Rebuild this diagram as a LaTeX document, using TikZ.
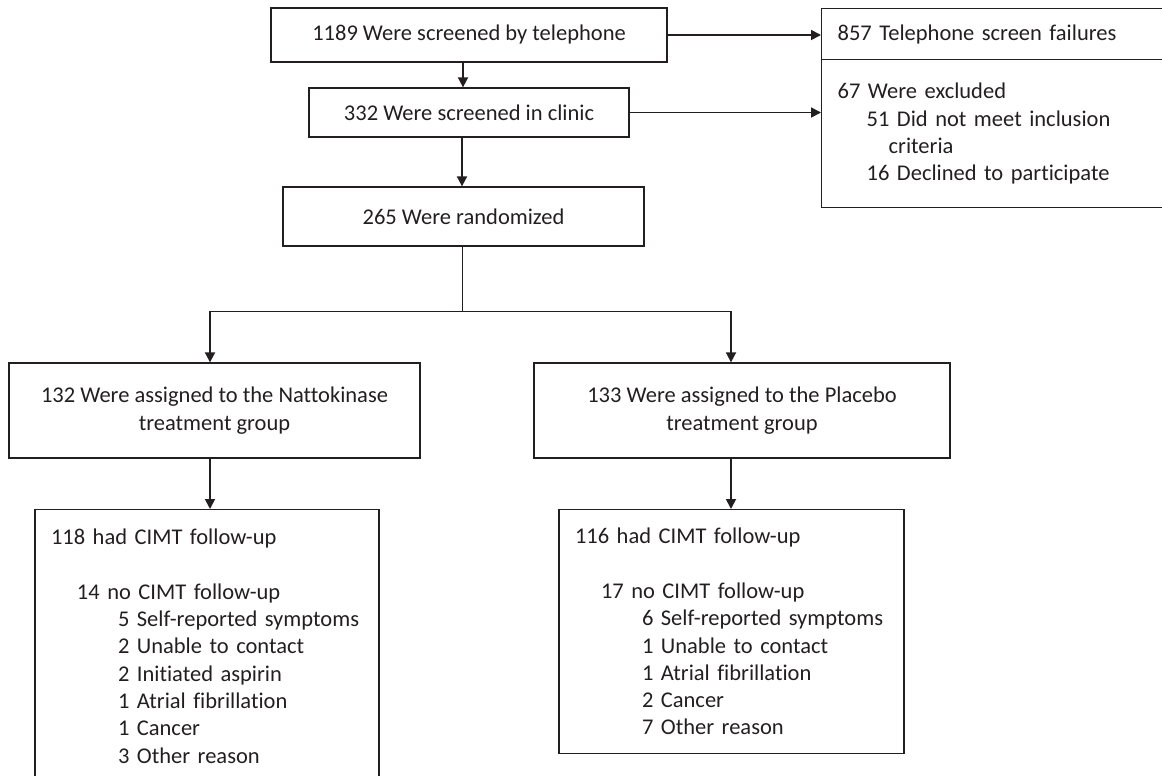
\documentclass[tikz,border=0pt]{standalone}
\usepackage{fontspec}
\setmainfont{Carlito}[Ligatures=NoCommon]
\usetikzlibrary{arrows.meta,positioning,calc}
\definecolor{ink}{HTML}{231F20}

\begin{document}
\begin{tikzpicture}[x=0.5pt,y=-0.5pt,
  font=\fontsize{11.25}{13.65}\selectfont, color=ink,
  box/.style={draw=ink, line width=0.65pt, rectangle, inner sep=0pt, align=center},
  listbox/.style={draw=ink, line width=0.65pt, rectangle, inner xsep=8pt, inner ysep=0pt, align=left},
  flow/.style={line width=0.9pt, -{Triangle[length=5pt,width=5pt]}},
  branch/.style={line width=0.5pt}]

\useasboundingbox (0,0) rectangle (1162,776);

% Screening
\node[box, minimum width=198pt, minimum height=27pt] (scrtel) at (469,35) {1189 Were screened by telephone};
\node[box, minimum width=160pt, minimum height=24.5pt] (scrclin) at (469,112.5) {332 Were screened in clinic};

% Failures and exclusions
\node[listbox, anchor=north west, text width=184pt, minimum height=25.5pt] (telfail) at (821,8) {857 Telephone screen failures};
\node[listbox, anchor=north west, text width=184pt, minimum height=74pt] (excl) at (821,59)
  {67 Were excluded\\
   \hspace*{14.5pt}51 Did not meet inclusion\\
   \hspace*{25.5pt}criteria\\
   \hspace*{14.5pt}16 Declined to participate};

% Randomization
\node[box, minimum width=180.5pt, minimum height=29.5pt] (rand) at (463.5,216.5) {265 Were randomized};

% Groups
\node[box, minimum width=205.5pt, minimum height=47.5pt] (nat) at (214.5,410.5) {132 Were assigned to the Nattokinase\\treatment group};
\node[box, minimum width=208pt, minimum height=47.5pt] (plac) at (742,410.5) {133 Were assigned to the Placebo\\treatment group};

% Follow-up
\node[listbox, anchor=north, text width=156pt, minimum height=136.5pt] (fuN) at (207,509)
  {118 had CIMT follow-up\\[13.65pt]
   \hspace*{13pt}14 no CIMT follow-up\\
   \hspace*{33.5pt}5 Self-reported symptoms\\
   \hspace*{33.5pt}2 Unable to contact\\
   \hspace*{33.5pt}2 Initiated aspirin\\
   \hspace*{33.5pt}1 Atrial fibrillation\\
   \hspace*{33.5pt}1 Cancer\\
   \hspace*{33.5pt}3 Other reason};
\node[listbox, anchor=north, text width=156.5pt, minimum height=122pt] (fuP) at (731.5,509)
  {116 had CIMT follow-up\\[13.65pt]
   \hspace*{13pt}17 no CIMT follow-up\\
   \hspace*{33.5pt}6 Self-reported symptoms\\
   \hspace*{33.5pt}1 Unable to contact\\
   \hspace*{33.5pt}1 Atrial fibrillation\\
   \hspace*{33.5pt}2 Cancer\\
   \hspace*{33.5pt}7 Other reason};

% Split points
\coordinate (splitC) at (462,311);
\coordinate (splitL) at (210,311);
\coordinate (splitR) at (731,311);

% Arrows
\draw[flow] (scrtel.south -| 463,0) -- (scrclin.north -| 463,0);
\draw[flow] (scrtel.east) -- (scrtel.east -| telfail.west);
\draw[flow] (scrclin.east) -- (scrclin.east -| excl.west);
\draw[flow] (scrclin.south -| splitC) -- (rand.north -| splitC);

\draw[branch] (rand.south -| splitC) -- (splitC);
\draw[branch] (splitL) -- (splitR);
\draw[flow] (splitL) -- (splitL |- nat.north);
\draw[flow] (splitR) -- (splitR |- plac.north);

\draw[flow] (splitL |- nat.south) -- (splitL |- fuN.north);
\draw[flow] (splitR |- plac.south) -- (splitR |- fuP.north);

\end{tikzpicture}
\end{document}
